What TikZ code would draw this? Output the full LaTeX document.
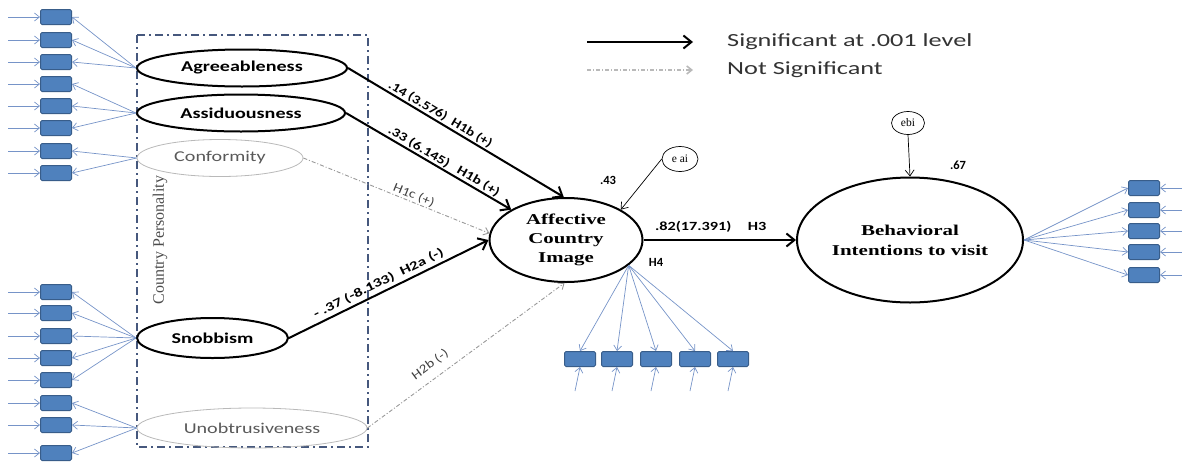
\documentclass[tikz,border=0pt]{standalone}
\usepackage{fontspec}
\setmainfont{Liberation Serif}
\newfontfamily\calib{Carlito}
\usetikzlibrary{arrows.meta,shapes.geometric}
\definecolor{boxblue}{RGB}{79,129,189}
\definecolor{boxedge}{RGB}{56,93,138}
\definecolor{loadblue}{RGB}{118,148,200}
\definecolor{frameblue}{RGB}{70,88,125}
\newcommand{\stretchx}[2][1.34]{\scalebox{#1}[1]{#2}}
\tikzset{
  latent/.style={ellipse, draw=black, line width=2pt, inner sep=0pt,
    font=\calib\fontsize{15}{18}\selectfont\bfseries},
  weaklatent/.style={ellipse, draw=gray!55, line width=0.8pt, inner sep=0pt,
    text=black!65, font=\calib\fontsize{15}{18}\selectfont},
  indbox/.style={rectangle, rounded corners=1.5pt, draw=boxedge, line width=1pt,
    fill=boxblue, minimum width=31pt, minimum height=15pt, inner sep=0pt},
  load/.style={draw=loadblue, line width=0.7pt, -{Straight Barb[length=5pt,width=8pt]}},
  sig/.style={draw=black, line width=2pt, -{Straight Barb[length=8pt,width=13pt]}},
  nonsig/.style={draw=gray!80, line width=0.9pt, dash pattern=on 4pt off 2pt on 1pt off 2pt,
    -{Straight Barb[length=5pt,width=8pt]}},
  pathlbl/.style={font=\calib\fontsize{12.5}{14}\selectfont\bfseries, inner sep=1pt},
  weaklbl/.style={font=\calib\fontsize{12.5}{14}\selectfont, text=black!75, inner sep=1pt},
  errterm/.style={ellipse, draw=black, line width=0.7pt, inner sep=0pt,
    font=\fontsize{11.5}{13}\selectfont},
  legtext/.style={font=\calib\fontsize{18.5}{22}\selectfont, text=black!80, inner sep=0pt}
}
\begin{document}
\begin{tikzpicture}[x=1pt,y=-1pt]
  \useasboundingbox (0,0) rectangle (1182,461);
  % Draw legend
  \coordinate (sigA) at (587,42);
  \coordinate (sigB) at (693,42);
  \draw[sig] (sigA) -- (sigB);
  \node[legtext, anchor=west] (sigtxt) at (727,42) {\stretchx[1.42]{Significant at .001 level}};
  \coordinate (nsA) at (587,70);
  \coordinate (nsB) at (693,70);
  \draw[nonsig, draw=gray!55, line width=1.6pt] (nsA) -- (nsB);
  \node[legtext, anchor=west] (nstxt) at (727,70) {\stretchx[1.42]{Not Significant}};
  % Draw country personality frame
  \draw[frameblue, line width=2pt, dash pattern=on 8pt off 4pt on 2pt off 4pt]
        (137,35) rectangle (368,447);
  \node[rotate=90, text=black!70, font=\fontsize{16}{18}\selectfont] (cp) at (160,240)
        {Country Personality};
  % Draw latent variables
  \node[latent, minimum width=210pt, minimum height=37pt] (agr) at (242,68)
        {\stretchx{Agreeableness}};
  \node[latent, minimum width=208pt, minimum height=37pt] (ass) at (241,113)
        {\stretchx{Assiduousness}};
  \node[weaklatent, minimum width=166pt, minimum height=37pt] (conf) at (220,158)
        {\stretchx{Conformity}};
  \node[latent, minimum width=151pt, minimum height=40pt] (snob) at (212.5,338)
        {\stretchx{Snobbism}};
  \node[weaklatent, minimum width=230pt, minimum height=40pt] (unob) at (252,428)
        {\stretchx{Unobtrusiveness}};
  \node[latent, font=\fontsize{15}{19}\selectfont\bfseries, align=center,
        minimum width=153pt, minimum height=84pt] (aci) at (566,240)
        {\stretchx[1.39]{Affective}\\\stretchx[1.39]{Country}\\\stretchx[1.39]{Image}};
  \node[latent, font=\fontsize{15}{20}\selectfont\bfseries, align=center,
        minimum width=226pt, minimum height=125pt] (bi) at (910,240)
        {\stretchx[1.4]{Behavioral}\\\stretchx[1.4]{Intentions to visit}};
  % Draw error terms
  \node[errterm, minimum width=36pt, minimum height=25pt] (eai) at (680,159) {e ai};
  \node[errterm, minimum width=33pt, minimum height=23pt] (ebi) at (908,123) {ebi};
  \draw[line width=0.7pt, -{Straight Barb[length=6pt,width=9pt]}] (eai.west) -- (aci.29);
  \draw[line width=0.7pt, -{Straight Barb[length=6pt,width=9pt]}] (ebi.south) -- (bi.north);
  \node[pathlbl] (rsqa) at (608,180) {.43};
  \node[pathlbl] (rsqb) at (958,165) {.67};
  % Draw structural paths
  \draw[sig] (agr.east) -- node[pathlbl, sloped, above, pos=0.41] (pagr)
        {\stretchx[1.2]{.14 (3.576)\ \ H1b (+)}} (aci.93);
  \draw[sig] (ass.east) -- node[pathlbl, sloped, above, pos=0.57] (pass)
        {\stretchx[1.25]{.33 (6.145)\ \ \ H1b (+)}} (aci.151);
  \draw[nonsig] (conf.east) -- node[weaklbl, sloped, above, pos=0.58] (pconf)
        {\stretchx[1.2]{H1c (+)}} (aci.175);
  \draw[sig] (snob.east) -- node[pathlbl, sloped, above=2pt, pos=0.47] (psnob)
        {\stretchx[1.35]{- .37 (-8.133)\ \ H2a (-)}} (aci.west);
  \draw[nonsig] (unob.east) -- node[weaklbl, sloped, above=7pt, pos=0.36] (punob)
        {\stretchx[1.2]{H2b (-)}} (aci.-92);
  \draw[sig] (aci.east) -- node[pathlbl, above=6pt, pos=0.44] (pbi)
        {\stretchx[1.3]{.82(17.391)\quad H3}} (bi.west);
  \node[pathlbl] (hfour) at (656,262) {H4};
  % Draw indicators of country personality
  \foreach \i/\y in {1/17,2/40,3/62,4/84,5/106,6/128,7/151,8/173,
                     9/292,10/313,11/336,12/358,13/380,14/403,15/425,16/453}{
    \node[indbox] (l\i) at (56,\y) {};
    \coordinate (lin\i) at (8,\y);
    \draw[load] (lin\i) -- (l\i);
  }
  \foreach \i in {1,2,3} \draw[load] (agr.west) -- (l\i.east);
  \foreach \i in {4,5,6} \draw[load] (ass.west) -- (l\i.east);
  \foreach \i in {7,8} \draw[load] (conf.west) -- (l\i.east);
  \foreach \i in {9,...,13} \draw[load] (snob.west) -- (l\i.east);
  \foreach \i in {14,15,16} \draw[load] (unob.west) -- (l\i.east);
  % Draw indicators of country image
  \foreach \i/\x in {1/580,2/617,3/656,4/695,5/733}{
    \node[indbox] (a\i) at (\x,359) {};
    \coordinate (ain\i) at (\x-5,391);
    \draw[load] (aci.-22) -- (a\i.north);
    \draw[load] (ain\i) -- (a\i.south);
  }
  % Draw indicators of intentions
  \foreach \i/\y in {1/188,2/210,3/231,4/252,5/275}{
    \node[indbox] (b\i) at (1144,\y) {};
    \coordinate (bin\i) at (1182,\y);
    \draw[load] (bi.east) -- (b\i.west);
    \draw[load] (bin\i) -- (b\i.east);
  }
\end{tikzpicture}
\end{document}
